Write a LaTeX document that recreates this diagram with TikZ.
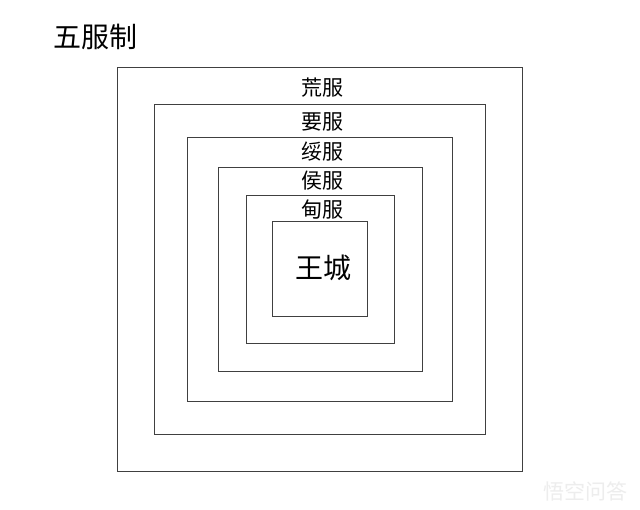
\documentclass[tikz,border=0pt]{standalone}
\usepackage{fontspec}
\newfontfamily\cjk{Noto Sans CJK SC}
\begin{document}
\begin{tikzpicture}[x=1pt,y=-1pt,
  ring/.style={draw=black!75,line width=1pt},
  lbl/.style={font=\cjk\fontsize{21}{21}\selectfont,inner sep=0pt,text=black},
  title/.style={font=\cjk\fontsize{28}{28}\selectfont,inner sep=0pt,text=black}]
\useasboundingbox (0,0) rectangle (640,510);
\fill[white] (0,0) rectangle (640,510);
\node[title] (t) at (95.5,37) {五服制};
\draw[ring] (117.5,67.5) rectangle (522.5,471.5);
\draw[ring] (154.5,104.5) rectangle (485.5,434.5);
\draw[ring] (187.5,137.5) rectangle (452.5,401.5);
\draw[ring] (218.5,167.5) rectangle (422.5,371.5);
\draw[ring] (246.5,195.5) rectangle (394.5,343.5);
\draw[ring] (272.5,221.5) rectangle (367.5,316.5);
\node[lbl] (a) at (322.5,88) {荒服};
\node[lbl] (b) at (322.5,121.5) {要服};
\node[lbl] (c) at (322.5,152) {绥服};
\node[lbl] (d) at (322.5,181) {侯服};
\node[lbl] (e) at (322.5,209.5) {甸服};
\node[font=\cjk\fontsize{28}{28}\selectfont,inner sep=0pt] (w) at (323,267.5) {王城};
\node[font=\cjk\fontsize{21}{21}\selectfont,inner sep=0pt,text=black!7] (wm) at (585,491) {悟空问答};
\end{tikzpicture}
\end{document}
